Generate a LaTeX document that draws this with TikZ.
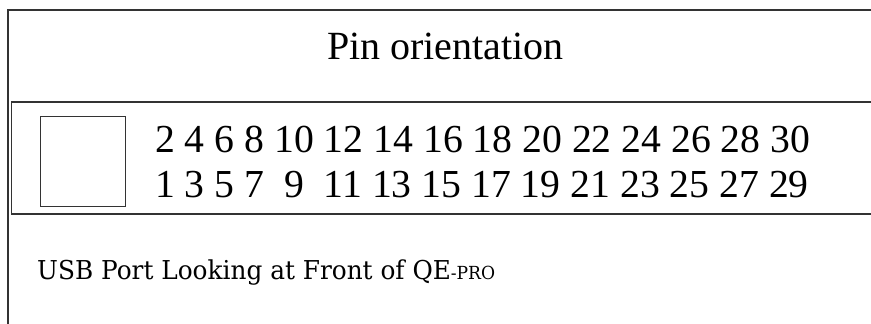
\documentclass[tikz,border=0pt]{standalone}
\usepackage{graphicx}
\usepackage{fontspec}
\setmainfont{Liberation Serif}
\newfontfamily\slabfont{DejaVu Serif}
\begin{document}
\begin{tikzpicture}[x=1pt,y=-1pt,
  frame/.style={draw=black!80, line width=1.5pt},
  pinrow/.style={anchor=base west, inner sep=0pt, font=\fontsize{39.7}{46}\selectfont},
  boxed/.style={draw=black!80, line width=1.3pt, rectangle, inner sep=0pt}]
\useasboundingbox (0,0) rectangle (871,324);
\clip (0,0) rectangle (871,324);
\draw[frame] (8,330) -- (8,10) -- (880,10);
\node[boxed, line width=1.5pt, anchor=north west, minimum width=880pt, minimum height=112pt] (strip) at (10.5,101) {};
\node[boxed, anchor=north west, minimum width=85pt, minimum height=90pt] (usb) at (40,116) {};
\node[anchor=base, inner sep=0pt, font=\fontsize{40}{48}\selectfont] (title) at (445.5,59) {Pin orientation};
\node[pinrow] (even) at (155,152) {2 4 6 8 10 12 14 16 18 20 22 24 26 28 30};
\node[pinrow] (odd) at (155,197) {1 3 5 7\hspace{.25em} 9\hspace{.25em} 11 13 15 17 19 21 23 25 27 29};
\node[anchor=base west, inner sep=0pt] (caption) at (37,279) {\resizebox{458pt}{\height}{\slabfont\fontsize{26}{30}\selectfont USB Port Looking at Front of QE{\fontsize{18}{20}\selectfont -PRO}}};
\end{tikzpicture}
\end{document}
